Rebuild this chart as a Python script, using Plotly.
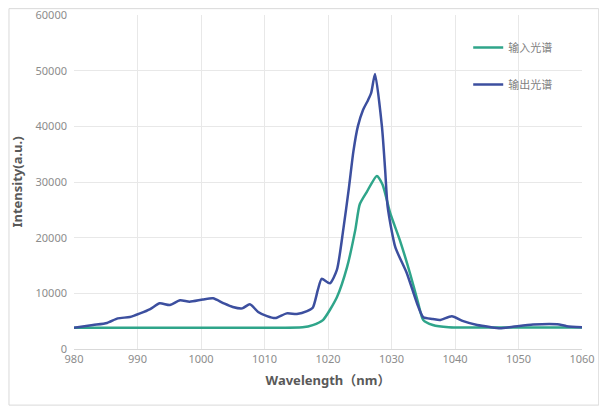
import plotly.graph_objects as go

# Input spectrum (输入光谱)
in_wl = [980, 990, 1000, 1010, 1016, 1017.6, 1019.2, 1021.4, 1023.0, 1024.3, 1025.0,
         1026.1, 1027.7, 1028.6, 1029.8, 1031.3, 1032.9, 1034.2, 1035.0, 1036.5, 1039,
         1045, 1050, 1060]
in_int = [3800, 3800, 3800, 3820, 3900, 4300, 5200, 9300, 14700, 21400, 26000,
          28200, 31100, 29500, 24400, 19600, 13650, 8260, 5200, 4300, 3900,
          3850, 3850, 3850]

# Output spectrum (输出光谱)
out_wl = [980, 983.0, 985.2, 986.9, 988.8, 990.4, 992.0, 993.5, 995.1, 996.7, 998.2,
          1000.3, 1001.9, 1003.5, 1005.0, 1006.5, 1007.7, 1009.0, 1010.4, 1011.7, 1013.5,
          1015.1, 1016.7, 1017.6, 1018.4, 1019.0, 1020.3, 1021.4, 1022.4, 1023.3, 1024.0,
          1024.7, 1025.5, 1026.3, 1026.8, 1027.4, 1028.5, 1029.0, 1029.4, 1030.6, 1032.4,
          1034.0, 1035.0, 1036.5, 1037.6, 1039.5, 1041.3, 1043.5, 1045.5, 1047.1, 1049.1,
          1052.3, 1056.1, 1057.6, 1060]
out_int = [3800, 4300, 4670, 5500, 5750, 6400, 7180, 8200, 7900, 8750, 8500,
           8900, 9100, 8250, 7550, 7300, 8050, 6650, 5900, 5550, 6400,
           6300, 6800, 7400, 10600, 12600, 11800, 14200, 21400, 29000, 35500,
           40000, 42900, 44700, 46000, 49400, 39900, 32150, 25500, 18300, 13650,
           8260, 5700, 5400, 5200, 5900, 5000, 4300, 3950, 3750, 4000,
           4400, 4450, 4100, 3900]

x_ticks = [980, 990, 1000, 1010, 1020, 1030, 1040, 1050, 1060]
y_ticks = [0, 10000, 20000, 30000, 40000, 50000, 60000]

fig = go.Figure()
fig.add_trace(go.Scatter(x=in_wl, y=in_int, mode="lines", name="输入光谱",
                         legendgroup="a",
                         line=dict(color="#2fa58a", width=2.5, shape="spline", smoothing=0.6)))
fig.add_trace(go.Scatter(x=out_wl, y=out_int, mode="lines", name="输出光谱",
                         legendgroup="b",
                         line=dict(color="#3c4f9f", width=2.5, shape="spline", smoothing=0.6)))

tickfont = dict(family="Noto Sans, sans-serif", size=11, color="#8c8c8c")
titlefont = dict(family="Noto Sans, Noto Sans CJK SC, sans-serif", size=13, color="#595959",
                 weight="bold")

fig.update_layout(
    width=599, height=400,
    margin=dict(l=66, r=25, t=7, b=59),
    paper_bgcolor="white", plot_bgcolor="white",
    showlegend=True,
    legend=dict(x=0.776, y=0.946, xanchor="left", yanchor="top",
                tracegroupgap=18, bgcolor="rgba(0,0,0,0)",
                font=dict(family="Noto Sans CJK SC, sans-serif", size=11, color="#7f7f7f")),
    xaxis=dict(range=[980, 1060], tickvals=x_ticks, ticktext=[str(v) for v in x_ticks],
               showgrid=True, gridcolor="#e8e8e8", gridwidth=1,
               showline=True, linecolor="#d9d9d9", zeroline=False,
               ticks="", tickfont=tickfont, ticklabeloverflow="allow",
               title=dict(text="Wavelength（nm）", font=titlefont, standoff=10)),
    yaxis=dict(range=[0, 60000], tickvals=y_ticks, ticktext=[str(v) for v in y_ticks],
               showgrid=True, gridcolor="#e8e8e8", gridwidth=1,
               zeroline=False, showline=False, ticks="", tickfont=tickfont,
               ticklabelstandoff=6, ticklabeloverflow="allow", automargin=False,
               title=dict(text="Intensity(a.u.)", font=titlefont, standoff=12)),
    shapes=[dict(type="rect", xref="paper", yref="paper",
                 x0=-0.128, x1=1.033, y0=-0.168, y1=1.019,
                 line=dict(color="#d9d9d9", width=1), fillcolor="rgba(0,0,0,0)")],
)

fig.write_html("out.html")
